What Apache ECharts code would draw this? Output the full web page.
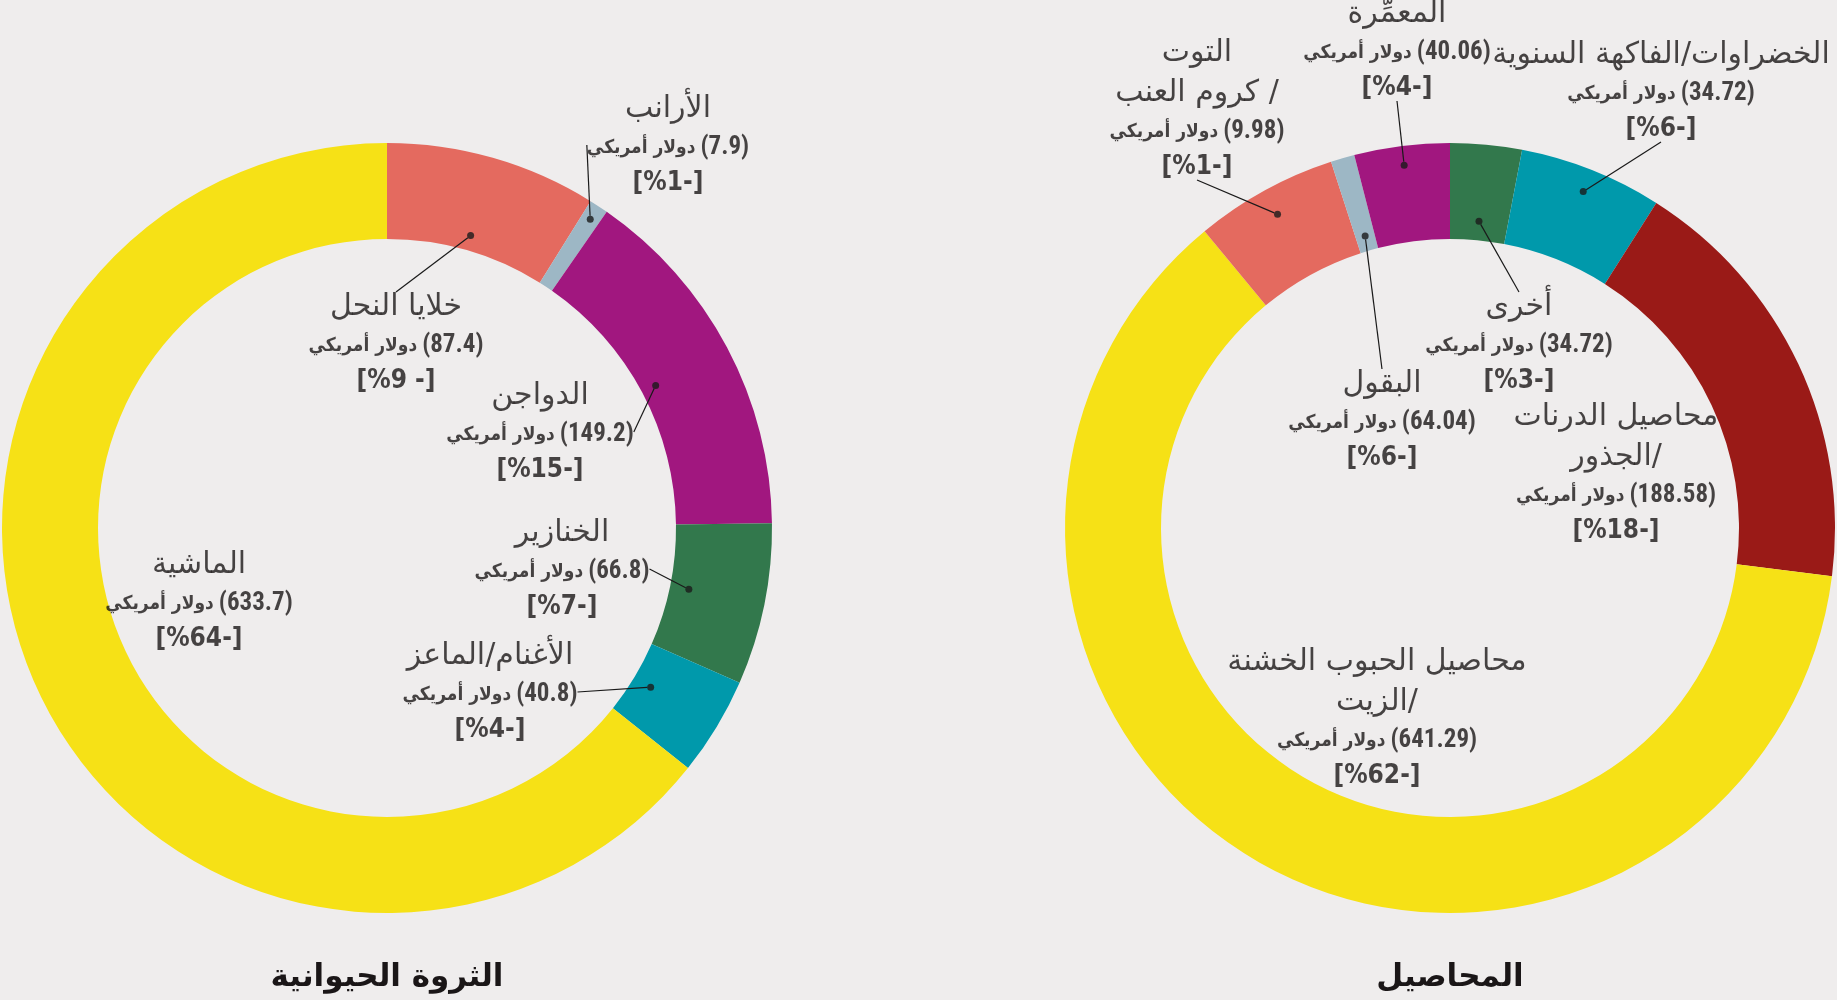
<!DOCTYPE html>
<html dir="rtl" lang="ar">
<head>
<meta charset="utf-8">
<script src="https://cdn.jsdelivr.net/npm/echarts@6/dist/echarts.min.js"></script>
<style>
html,body{margin:0;padding:0;background:#efeded;overflow:hidden;}
#c{width:1837px;height:1000px;}
</style>
</head>
<body>
<div id="c"></div>
<script>
// ---------- DATA ----------
// Livestock, clockwise from 12 o'clock
const livestockNames = ['خلايا النحل', 'الأرانب', 'الدواجن', 'الخنازير', 'الأغنام/الماعز', 'الماشية'];
const livestockValues = [87.4, 7.9, 149.2, 66.8, 40.8, 633.7];
const livestockPctLabels = ['[- %9]', '[-%1]', '[-%15]', '[-%7]', '[-%4]', '[-%64]'];

// Crops, clockwise from 12 o'clock
const cropNames = ['أخرى', 'الخضراوات/الفاكهة السنوية', 'محاصيل الدرنات\n/الجذور', 'محاصيل الحبوب الخشنة\n/الزيت', 'التوت\n/ كروم العنب', 'البقول', 'المعمِّرة'];
const cropValues = [34.72, 34.72, 188.58, 641.29, 9.98, 64.04, 40.06];
const cropPctLabels = ['[-%3]', '[-%6]', '[-%18]', '[-%62]', '[-%1]', '[-%6]', '[-%4]'];
const cropShares = [3, 6, 18, 62, 6, 1, 4];

const unitText = 'دولار أمريكي';
const titles = ['الثروة الحيوانية', 'المحاصيل'];

// ---------- STYLE / LAYOUT ----------
const livestockColors = ['#e46a5f', '#9db7c5', '#a1177f', '#32784c', '#0099ab', '#f6e116'];
const cropColors = ['#32784c', '#0099ab', '#9a1a17', '#f6e116', '#e46a5f', '#9db7c5', '#a1177f'];
const centers = [[387, 528], [1450, 528]];
const innerR = 289, outerR = 385;
// label anchor: [center x, top y]
const livestockLabelPos = [[396, 287], [668, 89], [540, 376], [562, 513], [490, 636], [199, 545]];
const cropLabelPos = [[1519, 287], [1661, 35], [1616, 397], [1377, 642], [1197, 33], [1382, 364], [1397, -6]];
// relative radius of the leader dot (null = no dot)
const livestockDotR = [0.79, 0.96, 0.79, 0.80, 0.80, null];
const cropDotR = [0.80, 0.94, null, null, 0.93, 0.79, 0.95];
const textColor = '#1a1617';
const narrow = '"Liberation Sans Narrow", "Roboto Condensed", "DejaVu Sans Condensed"';

function labelText(name, value, pct) {
  const lines = name.split('\n').map(s => '{n|' + s + '}');
  lines.push('{va|' + unitText + '}{vn|(' + value + ')}');
  lines.push('{p|' + pct + '}');
  return lines.join('\n');
}
function mids(arr) {
  let acc = 0;
  return arr.map(v => { const m = acc + v / 2; acc += v; return m; });
}
const sum = a => a.reduce((s, v) => s + v, 0);

const rich = {
  n: { fontFamily: 'DejaVu Sans', fontSize: 30, lineHeight: 40, color: textColor },
  va: { fontFamily: 'DejaVu Sans Condensed', fontWeight: 'bold', fontSize: 19, lineHeight: 38, color: textColor },
  vn: { fontFamily: narrow, fontWeight: 'bold', fontSize: 25, lineHeight: 38, color: textColor, padding: [0, 0, 0, 5] },
  p: { fontFamily: 'DejaVu Sans Condensed', fontWeight: 'bold', fontSize: 26, lineHeight: 32, color: textColor }
};

function pieSeries(names, sizes, colors, center) {
  return {
    type: 'pie', center: center, radius: [innerR, outerR],
    startAngle: 90, clockwise: true, silent: true, animation: false,
    label: { show: false }, labelLine: { show: false },
    itemStyle: { borderWidth: 0 },
    emphasis: { disabled: true },
    data: sizes.map((v, i) => ({ name: names[i], value: v, itemStyle: { color: colors[i] } }))
  };
}

function dotSeries(polarIndex, names, sizes, values, pctLabels, dotR, labelPos) {
  const m = mids(sizes);
  return {
    type: 'scatter', coordinateSystem: 'polar', polarIndex: polarIndex,
    silent: true, animation: false, z: 5,
    symbol: 'circle', symbolSize: 7,
    itemStyle: { color: '#1a1a1a' },
    labelLine: { show: true, lineStyle: { color: '#1a1a1a', width: 1.2 } },
    label: { show: true, rich: rich, align: 'center', color: textColor },
    labelLayout: function (p) {
      const pos = labelPos[p.dataIndex];
      return { x: pos[0], y: pos[1], align: 'center', verticalAlign: 'top' };
    },
    data: m.map((a, i) => ({
      value: [dotR[i] == null ? 0.8 : dotR[i], a],
      symbolSize: dotR[i] == null ? 0 : 7,
      labelLine: { show: dotR[i] != null },
      label: { formatter: labelText(names[i], values[i], pctLabels[i]) }
    }))
  };
}

const chart = echarts.init(document.getElementById('c'), null, { renderer: 'canvas' });
chart.setOption({
  backgroundColor: '#efeded',
  animation: false,
  polar: [
    { center: centers[0], radius: outerR },
    { center: centers[1], radius: outerR }
  ],
  angleAxis: [
    { polarIndex: 0, type: 'value', min: 0, max: sum(livestockValues), startAngle: 90, clockwise: true, show: false },
    { polarIndex: 1, type: 'value', min: 0, max: sum(cropShares), startAngle: 90, clockwise: true, show: false }
  ],
  radiusAxis: [
    { polarIndex: 0, type: 'value', min: 0, max: 1, show: false },
    { polarIndex: 1, type: 'value', min: 0, max: 1, show: false }
  ],
  graphic: titles.map((t, i) => ({
    type: 'text', x: centers[i][0], y: 978, silent: true,
    style: { text: t, align: 'center', verticalAlign: 'middle', font: 'bold 31px "DejaVu Sans"', fill: textColor }
  })),
  series: [
    pieSeries(livestockNames, livestockValues, livestockColors, centers[0]),
    pieSeries(cropNames, cropShares, cropColors, centers[1]),
    dotSeries(0, livestockNames, livestockValues, livestockValues, livestockPctLabels, livestockDotR, livestockLabelPos),
    dotSeries(1, cropNames, cropShares, cropValues, cropPctLabels, cropDotR, cropLabelPos)
  ]
});
</script>
</body>
</html>
